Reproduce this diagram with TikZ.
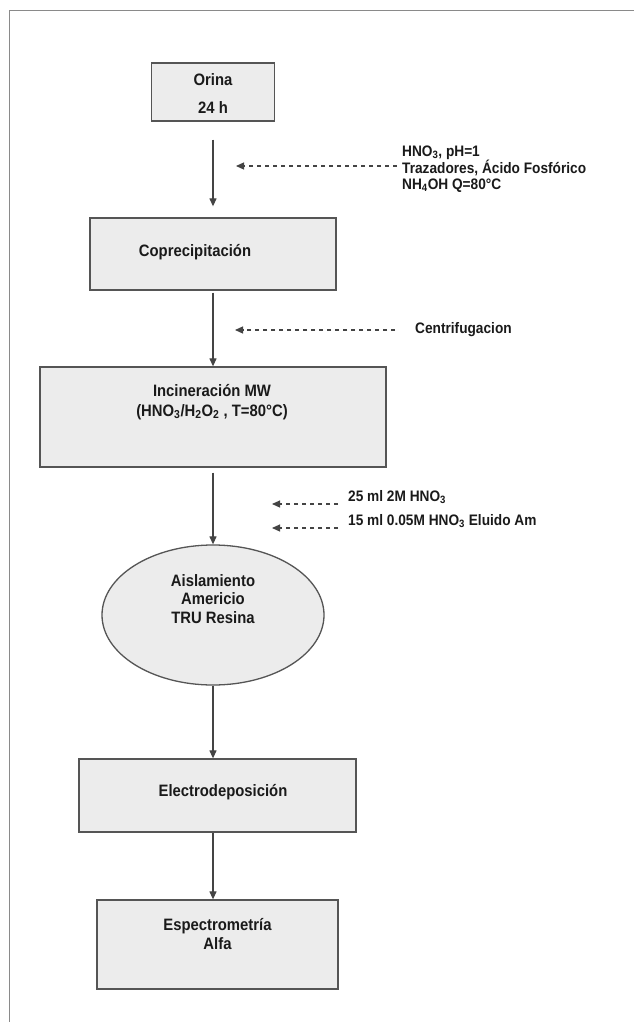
\documentclass[tikz,border=0pt]{standalone}
\usepackage{fontspec}
\setmainfont{Liberation Sans}
\newfontfamily\condensedsans[FakeStretch=0.9]{Liberation Sans}
\usetikzlibrary{arrows.meta,shapes.geometric,calc}

\definecolor{boxfill}{HTML}{ECECEC}
\definecolor{boxline}{HTML}{555555}
\definecolor{flowline}{HTML}{444444}
\definecolor{frameline}{HTML}{8A8A8A}
\definecolor{inktext}{HTML}{1A1A1A}

\begin{document}
\begin{tikzpicture}[x=1pt,y=-1pt,
  stepbox/.style={draw=boxline,fill=boxfill,line width=1.3pt,rectangle,inner sep=0pt},
  stepoval/.style={draw=boxline,fill=boxfill,line width=1.3pt,ellipse,inner sep=0pt},
  boxtext/.style={text=inktext,font=\condensedsans\fontsize{16.5}{18.5}\selectfont\bfseries,align=center,inner sep=0pt},
  sidetext/.style={text=inktext,font=\condensedsans\fontsize{15.2}{15.5}\selectfont\bfseries,align=left,anchor=west,inner sep=0pt},
  flow/.style={draw=flowline,line width=1.2pt,-{Triangle[length=8pt,width=7pt]}},
  feed/.style={draw=flowline,line width=1.1pt,dash pattern=on 4.5pt off 3.5pt,-{Triangle[length=8pt,width=7pt]}}]

% page and outer frame
\useasboundingbox (0,0) rectangle (634,1022);
\fill[white] (0,0) rectangle (634,1022);
\draw[frameline,line width=1.3pt] (9.5,1022) |- (634,10.5);

\coordinate (spine) at (213,0);

% process steps
\node[stepbox,minimum width=123pt,minimum height=58pt] (orina) at (213,92) {};
\node[boxtext] (orina-a) at (213,79.5) {Orina};
\node[boxtext] (orina-b) at (213,108) {24 h};

\node[stepbox,minimum width=246pt,minimum height=72pt] (copre) at (213,254) {};
\node[boxtext] (copre-t) at (195,252) {Coprecipitación};

\node[stepbox,minimum width=346pt,minimum height=100pt] (incin) at (213,417) {};
\node[boxtext,font=\condensedsans\fontsize{16.5}{20}\selectfont\bfseries] (incin-t) at (212,402)
  {Incineración MW\\(HNO\textsubscript{3}/H\textsubscript{2}O\textsubscript{2} , T=80°C)};

\node[stepoval,minimum width=222pt,minimum height=140pt] (tru) at (213,615) {};
\node[boxtext] (tru-t) at (213,599) {Aislamiento\\Americio\\TRU Resina};

\node[stepbox,minimum width=277pt,minimum height=73pt] (electro) at (217.5,795.5) {};
\node[boxtext] (electro-t) at (223,792) {Electrodeposición};

\node[stepbox,minimum width=241pt,minimum height=89pt] (espec) at (217.5,944.5) {};
\node[boxtext] (espec-t) at (217.5,934) {Espectrometría\\Alfa};

% reagents and conditions
\node[sidetext] (reag1) at (402,169) {HNO\textsubscript{3}, pH=1\\Trazadores, Ácido Fosfórico\\NH\textsubscript{4}OH Q=80°C};
\node[sidetext] (reag2) at (415,330) {Centrifugacion};
\node[sidetext] (reag3) at (348,497) {25 ml 2M HNO\textsubscript{3}};
\node[sidetext] (reag4) at (348,521) {15 ml 0.05M HNO\textsubscript{3} Eluido Am};

\coordinate (in1s) at (397,166);  \coordinate (in1e) at (236,166);
\coordinate (in2s) at (395,330);  \coordinate (in2e) at (235,330);
\coordinate (in3s) at (338,504);  \coordinate (in3e) at (272,504);
\coordinate (in4s) at (338,528);  \coordinate (in4e) at (272,528);

% main flow
\draw[flow] ($(orina.south)+(0,18)$) -- ($(copre.north)+(0,-11)$);
\draw[flow] ($(copre.south)+(0,2)$) -- (incin.north);
\draw[flow] ($(incin.south)+(0,5)$) -- (tru.north);
\draw[flow] (tru.south) -- (spine |- electro.north);
\draw[flow] (spine |- electro.south) -- (spine |- espec.north);

% side inputs
\draw[feed] (in1s) -- (in1e);
\draw[feed] (in2s) -- (in2e);
\draw[feed] (in3s) -- (in3e);
\draw[feed] (in4s) -- (in4e);
\end{tikzpicture}
\end{document}
